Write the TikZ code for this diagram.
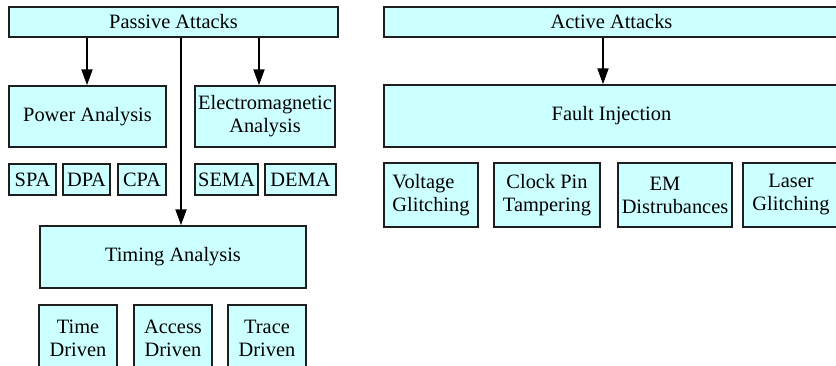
\documentclass[tikz,border=0pt]{standalone}
\usepackage{fontspec}
\setmainfont{Liberation Serif}
\usetikzlibrary{arrows.meta}
\definecolor{boxfill}{RGB}{204,255,255}
\definecolor{boxline}{RGB}{30,30,30}
\tikzset{
  box/.style={draw=boxline, line width=1.5pt, fill=boxfill, inner sep=0pt,
    font=\fontsize{20.4pt}{23pt}\selectfont, align=center},
  arr/.style={line width=2pt, -{Triangle[length=16pt,width=11pt]}}
}
\begin{document}
\begin{tikzpicture}[x=1pt,y=-1pt]
\useasboundingbox (0,0) rectangle (836,365);
\clip (0,0) rectangle (836,365);
% passive side
\node[box, minimum width=329pt, minimum height=30pt] (PA) at (173.5,22) {Passive Attacks};
\node[box, minimum width=157pt, minimum height=61pt] (POW) at (87.5,116.5) {Power Analysis};
\node[box, minimum width=140pt, minimum height=61pt] (EM) at (265,116.5) {Electromagnetic\\Analysis};
\node[box, minimum width=47pt, minimum height=31pt] (SPA) at (32.5,179.5) {SPA};
\node[box, minimum width=47pt, minimum height=31pt] (DPA) at (86.5,179.5) {DPA};
\node[box, minimum width=48pt, minimum height=31pt] (CPA) at (142,179.5) {CPA};
\node[box, minimum width=63pt, minimum height=31pt] (SEMA) at (226.5,179.5) {SEMA};
\node[box, minimum width=71pt, minimum height=31pt] (DEMA) at (300.5,179.5) {DEMA};
\node[box, minimum width=266pt, minimum height=62pt] (TIM) at (173,257) {Timing Analysis};
\node[box, minimum width=78pt, minimum height=66pt] (TD) at (78,338) {Time\\Driven};
\node[box, minimum width=78pt, minimum height=66pt] (AD) at (173,338) {Access\\Driven};
\node[box, minimum width=78pt, minimum height=66pt] (TRD) at (267,338) {Trace\\Driven};
% active side
\node[box, minimum width=455pt, minimum height=30pt] (AA) at (611.5,22) {Active Attacks};
\node[box, minimum width=455pt, minimum height=62pt] (FI) at (611.5,116) {Fault Injection};
\node[box, minimum width=94pt, minimum height=64pt, align=left] (VG) at (431,195) {Voltage\\Glitching};
\node[box, minimum width=106pt, minimum height=64pt] (CPT) at (547,195) {Clock Pin\\Tampering};
\node[box, minimum width=114pt, minimum height=64pt] (EMD) at (675,195) {EM\kern20pt\\Distrubances};
\node[box, minimum width=96pt, minimum height=64pt] (LG) at (791,195) {Laser\\Glitching};
% connectors
\coordinate (xpow) at (87,0);
\coordinate (xtim) at (181,0);
\coordinate (xem) at (259,0);
\coordinate (xfi) at (603,0);
\draw[arr] (PA.south -| xpow) -- (POW.north -| xpow);
\draw[arr] (PA.south -| xem) -- (EM.north -| xem);
\draw[arr] (PA.south -| xtim) -- (TIM.north -| xtim);
\draw[arr] (AA.south -| xfi) -- (FI.north -| xfi);
\end{tikzpicture}
\end{document}
